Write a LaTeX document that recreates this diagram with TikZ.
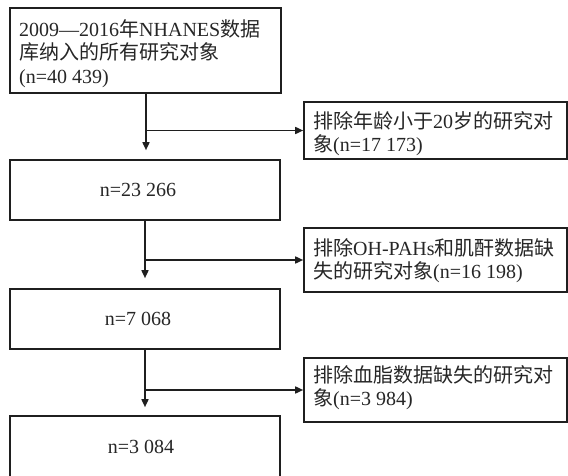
\documentclass[tikz,border=0pt]{standalone}
\usepackage{fontspec}
\setmainfont{Liberation Serif}
\newfontfamily\cjk{Noto Sans CJK SC}
\usetikzlibrary{arrows.meta,calc}
\begin{document}
\begin{tikzpicture}[x=1pt,y=-1pt,
  box/.style={draw=black!88,line width=1.6pt,inner sep=0pt},
  txt/.style={inner sep=0pt,align=left,text=black!85,font=\fontsize{20}{23.5}\selectfont},
  arr/.style={draw=black!88,line width=1.6pt,-{Triangle[length=8pt,width=7pt]}},
  ln/.style={draw=black!88,line width=1.6pt}]
\useasboundingbox[fill=white] (0,0) rectangle (568,476);
% main column boxes
\node[box,minimum width=271pt,minimum height=85pt] (b1) at (145.5,50.5) {};
\node[box,minimum width=270pt,minimum height=60pt] (b2) at (145,190) {};
\node[box,minimum width=270pt,minimum height=60pt] (b3) at (145,319) {};
\node[box,minimum width=270pt,minimum height=66pt] (b4) at (145,449) {};
% exclusion boxes
\node[box,minimum width=263pt,minimum height=57pt] (r1) at (435.5,130.5) {};
\node[box,minimum width=263pt,minimum height=64pt] (r2) at (435.5,260) {};
\node[box,minimum width=263pt,minimum height=64pt] (r3) at (435.5,390) {};
% texts
\node[txt,anchor=west] (t1) at (19,53.5) {2009—2016{\cjk 年}NHANES{\cjk 数据}\\{\cjk 库纳入的所有研究对象}\\(n=40~439)};
\node[txt] (t2) at (138,190) {n=23~266};
\node[txt] (t3) at (138,319) {n=7~068};
\node[txt] (t4) at (141,447) {n=3~084};
\node[txt,anchor=west] (u1) at (313,133.5) {{\cjk 排除年龄小于}20{\cjk 岁的研究对}\\{\cjk 象}(n=17~173)};
\node[txt,anchor=west] (u2) at (313,260.5) {{\cjk 排除}OH-PAHs{\cjk 和肌酐数据缺}\\{\cjk 失的研究对象}(n=16~198)};
\node[txt,anchor=west] (u3) at (313,387.5) {{\cjk 排除血脂数据缺失的研究对}\\{\cjk 象}(n=3~984)};
% connectors
\coordinate (j1) at ($(b1.south)+(0.5pt,0)$);
\coordinate (e1) at ($(b2.north)+(1pt,9pt)$);
\draw[arr] (j1) -- (e1);
\draw[arr] (j1 |- r1.west) -- (r1.west);
\coordinate (e2) at ($(b3.north)+(0,10pt)$);
\draw[arr] (b2.south) -- (e2);
\draw[arr] (b2.south |- r2.west) -- (r2.west);
\coordinate (e3) at ($(b4.north)+(0,8pt)$);
\draw[arr] (b3.south) -- (e3);
\draw[arr] (b3.south |- r3.west) -- (r3.west);
\end{tikzpicture}
\end{document}
